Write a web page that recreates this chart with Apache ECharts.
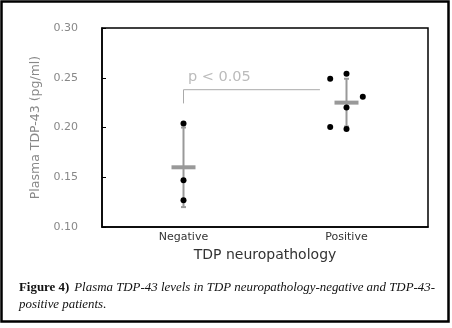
<!DOCTYPE html>
<html>
<head>
<meta charset="utf-8">
<script src="https://cdn.jsdelivr.net/npm/echarts@6/dist/echarts.min.js"></script>
<style>
html,body{margin:0;padding:0;background:#fff;}
#c{width:452px;height:328px;}
</style>
</head>
<body>
<div id="c"></div>
<script>
// ---- data ----
const categories = ['Negative', 'Positive'];
const yTicks = [0.10, 0.15, 0.20, 0.25, 0.30];
const negValues = [0.204, 0.147, 0.127];
const negJitter = [0, 0, 0];
const posValues = [0.249, 0.254, 0.231, 0.220, 0.2005, 0.1985];
const posJitter = [-0.1, 0, 0.1, 0, -0.1, 0];
const groupMeans = [0.160, 0.225];
const groupSD = [0.040, 0.024];
const bracketX = [0.5, 0.5, 1.337];
const bracketY = [0.2242, 0.238, 0.238];
const pText = 'p < 0.05';
const pPos = [0.72, 0.2505];
const captionBold = 'Figure 4)';
const captionLines = ['Plasma TDP-43 levels in TDP neuropathology-negative and TDP-43-', 'positive patients.'];

// ---- build ----
const chart = echarts.init(document.getElementById('c'), null, {renderer: 'canvas'});
const points = [];
negValues.forEach((v, i) => points.push([0.5 + negJitter[i], v]));
posValues.forEach((v, i) => points.push([1.5 + posJitter[i], v]));
const errData = groupMeans.map((m, i) => [i + 0.5, m, groupSD[i]]);

const axisFont = 'DejaVu Sans, sans-serif';

const option = {
  animation: false,
  backgroundColor: '#fff',
  title: {
    left: 14, top: 274,
    text: '{b|' + captionBold + '} {i|' + captionLines[0] + '}\n{i|' + captionLines[1] + '}',
    textStyle: {
      fontWeight: 'normal',
      rich: {
        b: {fontFamily: 'Liberation Serif, serif', fontWeight: 'bold', fontSize: 12.9, color: '#111', lineHeight: 16},
        i: {fontFamily: 'Liberation Serif, serif', fontStyle: 'italic', fontWeight: 'normal', fontSize: 12.9, color: '#111', lineHeight: 16}
      }
    }
  },
  grid: {left: 102, right: 24, top: 28, bottom: 101, show: true, borderColor: '#000', borderWidth: 1.5, backgroundColor: 'transparent'},
  xAxis: [
    {
      type: 'category', data: categories, boundaryGap: true,
      axisLine: {lineStyle: {color: '#000', width: 1.5}},
      axisTick: {show: false},
      axisLabel: {color: '#333', fontSize: 11, fontFamily: axisFont, margin: 5},
      name: 'TDP neuropathology', nameLocation: 'middle', nameGap: 21,
      nameTextStyle: {color: '#333', fontSize: 14, fontFamily: axisFont}
    },
    {type: 'value', min: 0, max: 2, show: false}
  ],
  yAxis: {
    type: 'value', min: yTicks[0], max: yTicks[yTicks.length - 1], interval: 0.05,
    axisLine: {show: true, lineStyle: {color: '#000', width: 1.5}},
    axisTick: {show: true, inside: true, length: 4, lineStyle: {color: '#000'}},
    splitLine: {show: false},
    axisLabel: {color: '#888', fontSize: 11, fontFamily: axisFont, margin: 24, formatter: v => v.toFixed(2)},
    name: 'Plasma TDP-43 (pg/ml)', nameLocation: 'middle', nameGap: 60, nameRotate: 90,
    nameTextStyle: {color: '#888', fontSize: 12.5, fontFamily: axisFont}
  },
  series: [
    {
      type: 'custom', xAxisIndex: 1, data: errData, z: 2,
      renderItem: function (params, api) {
        const x = api.value(0), m = api.value(1), s = api.value(2);
        const top = api.coord([x, m + s]);
        const bot = api.coord([x, m - s]);
        const mid = api.coord([x, m]);
        const st = {stroke: '#999', lineWidth: 2};
        return {
          type: 'group',
          children: [
            {type: 'line', shape: {x1: top[0], y1: top[1], x2: bot[0], y2: bot[1]}, style: st},
            {type: 'line', shape: {x1: top[0] - 2.5, y1: top[1], x2: top[0] + 2.5, y2: top[1]}, style: st},
            {type: 'line', shape: {x1: bot[0] - 2.5, y1: bot[1], x2: bot[0] + 2.5, y2: bot[1]}, style: st},
            {type: 'rect', shape: {x: mid[0] - 12, y: mid[1] - 2, width: 24, height: 4}, style: {fill: '#999'}}
          ]
        };
      }
    },
    {
      type: 'scatter', xAxisIndex: 1, data: points, symbolSize: 6, z: 3,
      itemStyle: {color: '#000', opacity: 1}
    },
    {
      type: 'line', xAxisIndex: 1, data: bracketX.map((x, i) => [x, bracketY[i]]),
      symbol: 'none', lineStyle: {color: '#aaa', width: 1}, z: 1
    },
    {
      type: 'scatter', xAxisIndex: 1, data: [pPos], symbolSize: 0, z: 1,
      label: {show: true, position: 'inside', formatter: pText, color: '#aaa', fontSize: 14.5, fontFamily: axisFont}
    }
  ],
  graphic: [
    {type: 'rect', shape: {x: 1.5, y: 1.5, width: 447, height: 320}, style: {fill: 'none', stroke: '#000', lineWidth: 2.5}, z: 100}
  ]
};
chart.setOption(option);
</script>
</body>
</html>
